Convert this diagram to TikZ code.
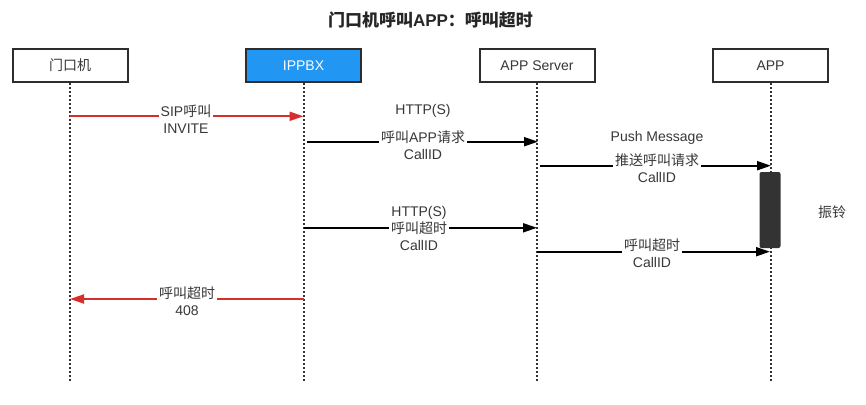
\documentclass[tikz,border=0pt]{standalone}
\usepackage{fontspec}
\setmainfont{Liberation Sans}
\newfontfamily\cjk{Noto Sans CJK SC}
\usetikzlibrary{arrows.meta}
\definecolor{boxline}{RGB}{45,45,45}
\definecolor{txt}{RGB}{55,55,55}
\definecolor{ipblue}{RGB}{33,150,243}
\definecolor{msgred}{RGB}{214,45,45}
\definecolor{actgray}{RGB}{51,51,51}
\begin{document}
\begin{tikzpicture}[x=1pt,y=-1pt,
  actor/.style={draw=boxline,line width=2pt,minimum width=115pt,minimum height=33pt,inner sep=0pt,font=\fontsize{14}{16}\selectfont,text=txt},
  life/.style={line width=2pt,dash pattern=on 1.6pt off 2.4pt,draw=black!80},
  msg/.style={line width=2pt,-{Triangle[length=14pt,width=9pt]}},
  redmsg/.style={msg,draw=msgred,fill=msgred},
  lbl/.style={fill=white,inner xsep=2pt,inner ysep=0pt,align=center,text=txt,font=\fontsize{14}{17}\selectfont},
  plain/.style={inner sep=0pt,align=center,text=txt,font=\fontsize{14}{17}\selectfont}]
\useasboundingbox (0,0) rectangle (866,404);
\fill[white] (0,0) rectangle (866,404);

\node[font=\fontsize{17}{20}\selectfont\bfseries,text=black!85] (title) at (430.5,20) {{\cjk 门口机呼叫}APP{\cjk ：呼叫超时}};

\node[actor] (door) at (70,65.5) {\cjk 门口机};
\node[actor,fill=ipblue,text=white] (pbx) at (303.5,65.5) {IPPBX};
\node[actor] (srv) at (537,65.5) {APP Server};
\node[actor] (app) at (770.5,65.5) {APP};

\coordinate (doorEnd) at (70,381);
\coordinate (pbxEnd) at (303.5,381);
\coordinate (srvEnd) at (537,381);
\coordinate (appEnd) at (770.5,381);
\draw[life] (door.south) -- (doorEnd);
\draw[life] (pbx.south) -- (pbxEnd);
\draw[life] (srv.south) -- (srvEnd);
\draw[life] (app.south) -- (appEnd);

% activation
\node[fill=actgray,rounded corners=2pt,minimum width=21pt,minimum height=76pt,inner sep=0pt] (act) at (770,210) {};
\node[plain] (ring) at (832,212) {\cjk 振铃};

% message 1
\coordinate (m1s) at (70,116.3);
\coordinate (m1e) at (303.5,116.3);
\draw[redmsg] (m1s) -- (m1e);
\node[lbl] (m1l) at (186,119.5) {SIP{\cjk 呼叫}\\INVITE};

% message 2
\coordinate (m2s) at (307,141.7);
\coordinate (m2e) at (538,141.7);
\draw[msg] (m2s) -- (m2e);
\node[plain] (m2t) at (423,111) {HTTP(S)};
\node[lbl] (m2l) at (423,145) {{\cjk 呼叫}APP{\cjk 请求}\\CallID};

% message 3
\coordinate (m3s) at (540,165.7);
\coordinate (m3e) at (771,165.7);
\draw[msg] (m3s) -- (m3e);
\node[plain] (m3t) at (657,137.7) {Push Message};
\node[lbl] (m3l) at (657,168.5) {{\cjk 推送呼叫请求}\\CallID};

% message 4
\coordinate (m4s) at (303.5,227.8);
\coordinate (m4e) at (537,227.8);
\draw[msg] (m4s) -- (m4e);
\node[lbl] (m4l) at (419,228.3) {HTTP(S)\\{\cjk 呼叫超时}\\CallID};

% message 5
\coordinate (m5s) at (537,251.7);
\coordinate (m5e) at (770,251.7);
\draw[msg] (m5s) -- (m5e);
\node[lbl] (m5l) at (652,253.5) {{\cjk 呼叫超时}\\CallID};

% message 6
\coordinate (m6s) at (303.5,299);
\coordinate (m6e) at (70,299);
\draw[redmsg] (m6s) -- (m6e);
\node[lbl] (m6l) at (187,300.7) {{\cjk 呼叫超时}\\408};
\end{tikzpicture}
\end{document}
